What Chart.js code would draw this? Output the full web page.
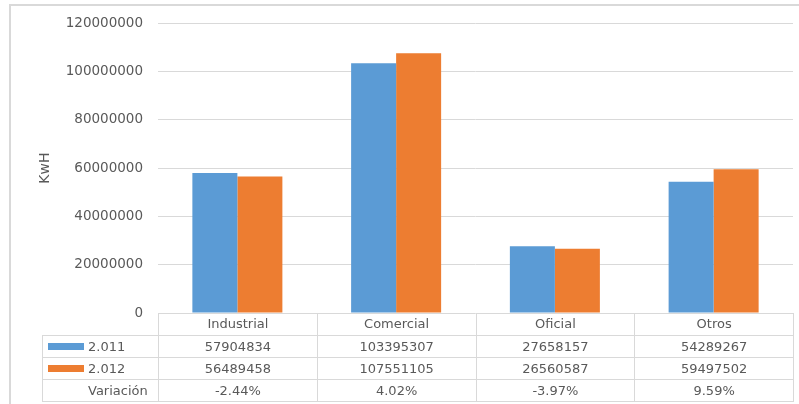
<!DOCTYPE html>
<html>
<head>
<meta charset="utf-8">
<script src="https://cdn.jsdelivr.net/npm/chart.js@4/dist/chart.umd.min.js"></script>
<style>
  html, body { margin: 0; padding: 0; background: #fff; overflow: hidden; }
  #wrap { position: relative; width: 799px; height: 404px; }
  #frame { position: absolute; left: 9px; top: 4px; width: 820px; height: 420px;
           border-left: 2px solid #d9d9d9; border-top: 2px solid #d9d9d9; box-sizing: border-box; }
  canvas { position: absolute; left: 0; top: 0; }
  #tbl { position: absolute; border-collapse: collapse; table-layout: fixed;
         font-family: "DejaVu Sans", sans-serif; font-size: 13px; color: #595959; }
  #tbl td { border: 1px solid #d9d9d9; padding: 0; text-align: center; height: 22px;
            white-space: nowrap; overflow: hidden; box-sizing: border-box; line-height: 21px; }
  #tbl tr.head td { border-top: none; }
  #tbl tr.head td.corner { border: none; }
  #tbl td.lab { text-align: left; padding-left: 5px; }
  .key { display: inline-block; width: 36px; height: 7px; vertical-align: middle;
         margin-right: 4px; position: relative; top: -1px; }
  .nokey { display: inline-block; width: 40px; }
</style>
</head>
<body>
<div id="wrap">
  <div id="frame"></div>
  <canvas id="c" width="799" height="404"></canvas>
  <table id="tbl"></table>
</div>
<script>
const categories = ['Industrial', 'Comercial', 'Oficial', 'Otros'];
const seriesNames = ['2.011', '2.012'];
const values2011 = [57904834, 103395307, 27658157, 54289267];
const values2012 = [56489458, 107551105, 26560587, 59497502];
const variationLabel = 'Variación';
const variation = ['-2.44%', '4.02%', '-3.97%', '9.59%'];
const yAxisTitle = 'KwH';
const yMin = 0, yMax = 120000000, yStep = 20000000;

const colors = ['#5B9BD5', '#ED7D31'];
const tickFont = { family: '"DejaVu Sans", sans-serif', size: 13.5 };
const titleFont = { family: '"DejaVu Sans", sans-serif', size: 14 };

const chart = new Chart(document.getElementById('c'), {
  type: 'bar',
  data: {
    labels: categories,
    datasets: [
      { label: seriesNames[0], data: values2011, backgroundColor: colors[0] },
      { label: seriesNames[1], data: values2012, backgroundColor: colors[1] }
    ]
  },
  options: {
    responsive: false,
    devicePixelRatio: 1,
    animation: false,
    categoryPercentage: 0.567,
    barPercentage: 1.0,
    layout: { padding: { left: 10, top: 23, right: 6, bottom: 91 } },
    plugins: { legend: { display: false }, tooltip: { enabled: false } },
    scales: {
      x: { display: false },
      y: {
        min: yMin, max: yMax,
        afterFit: (s) => { s.width = 148; },
        border: { display: false },
        grid: { color: '#d9d9d9', lineWidth: 1, drawTicks: false },
        ticks: { stepSize: yStep, padding: 15, color: '#595959', font: tickFont,
                 callback: (v) => String(v) },
        title: { display: true, text: yAxisTitle, color: '#595959', font: titleFont,
                 padding: { top: 27, bottom: 0 } }
      }
    }
  }
});

// Data table below the plot, aligned to the category scale
(function buildTable() {
  const area = chart.chartArea;
  const tbl = document.getElementById('tbl');
  const colW = (area.right - area.left) / categories.length;
  const firstW = area.left - 42;
  tbl.style.left = '42px';
  tbl.style.top = Math.round(area.bottom) + 'px';
  tbl.style.width = (firstW + colW * categories.length) + 'px';

  const cg = document.createElement('colgroup');
  const c0 = document.createElement('col'); c0.style.width = firstW + 'px'; cg.appendChild(c0);
  categories.forEach(() => { const c = document.createElement('col'); c.style.width = colW + 'px'; cg.appendChild(c); });
  tbl.appendChild(cg);

  const head = document.createElement('tr'); head.className = 'head';
  const corner = document.createElement('td'); corner.className = 'corner'; head.appendChild(corner);
  categories.forEach(cat => { const td = document.createElement('td'); td.textContent = cat; head.appendChild(td); });
  tbl.appendChild(head);

  const rows = [
    { name: seriesNames[0], color: colors[0], vals: values2011.map(String) },
    { name: seriesNames[1], color: colors[1], vals: values2012.map(String) },
    { name: variationLabel, color: null, vals: variation }
  ];
  rows.forEach(r => {
    const tr = document.createElement('tr');
    const lab = document.createElement('td'); lab.className = 'lab';
    const k = document.createElement('span');
    if (r.color) { k.className = 'key'; k.style.background = r.color; } else { k.className = 'nokey'; }
    lab.appendChild(k);
    lab.appendChild(document.createTextNode(r.name));
    tr.appendChild(lab);
    r.vals.forEach(v => { const td = document.createElement('td'); td.textContent = v; tr.appendChild(td); });
    tbl.appendChild(tr);
  });
})();
</script>
</body>
</html>
